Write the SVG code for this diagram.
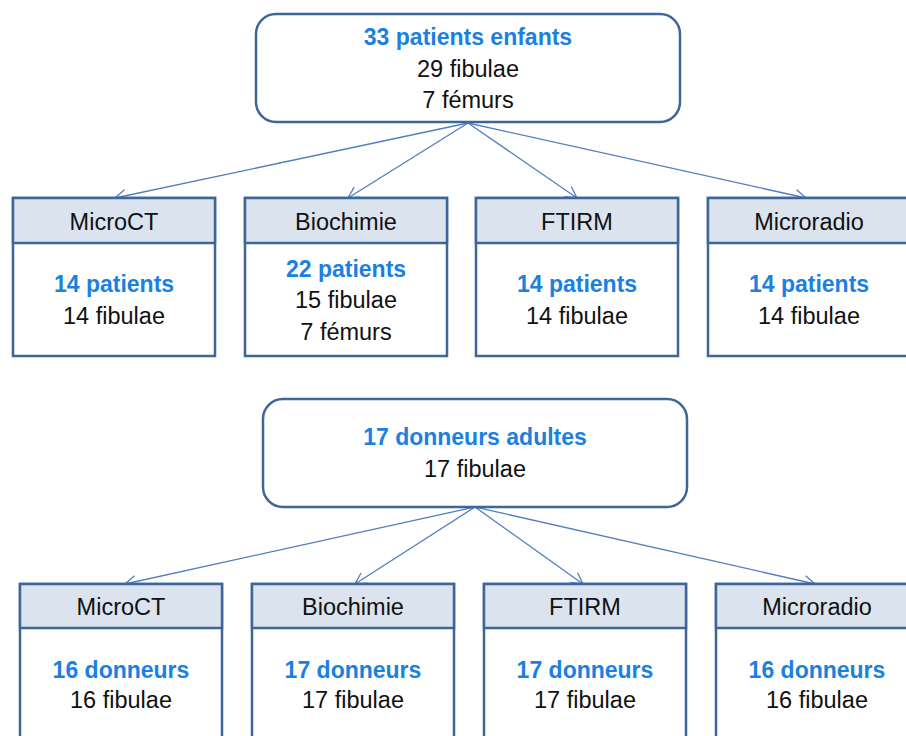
<svg xmlns="http://www.w3.org/2000/svg" width="906" height="736" viewBox="0 0 906 736">
<style>
.box{fill:#fff;stroke:#3f6698;stroke-width:2.5}
.hdr{fill:#dbe3ef;stroke:#3f6698;stroke-width:2.5}
.t{font-family:"Liberation Sans",Arial,sans-serif;font-size:23.5px;fill:#111;text-anchor:middle}
.b{font-family:"Liberation Sans",Arial,sans-serif;font-size:23px;font-weight:bold;fill:#1a80e2;text-anchor:middle}
.c{stroke:#4f7fbd;stroke-width:1.3;fill:none;marker-end:url(#arr)}
</style>
<defs>
<marker id="arr" markerUnits="userSpaceOnUse" markerWidth="16" markerHeight="16" refX="12" refY="7" orient="auto">
<path d="M1,1 L12,7 L1,13" fill="none" stroke="#4f7fbd" stroke-width="1.3"/>
</marker>
</defs>
<rect width="906" height="736" fill="#fff"/>
<g id="connectors">
<line class="c" x1="468" y1="123" x2="115" y2="198"/>
<line class="c" x1="468" y1="123" x2="348" y2="198"/>
<line class="c" x1="468" y1="123" x2="577" y2="198"/>
<line class="c" x1="468" y1="123" x2="806" y2="198"/>
<line class="c" x1="475" y1="507" x2="125" y2="584"/>
<line class="c" x1="475" y1="507" x2="355" y2="584"/>
<line class="c" x1="475" y1="507" x2="583" y2="584"/>
<line class="c" x1="475" y1="507" x2="815" y2="584"/>
</g>
<g id="enfants">
<rect class="box" x="256" y="14" width="424" height="108" rx="20"/>
<text class="b" x="468" y="45">33 patients enfants</text>
<text class="t" x="468" y="77">29 fibulae</text>
<text class="t" x="468" y="108">7 fémurs</text>
</g>
<g id="microct1">
<rect class="box" x="13" y="198" width="202" height="158"/>
<rect class="hdr" x="13" y="198" width="202" height="45"/>
<text class="t" x="114" y="230">MicroCT</text>
<text class="b" x="114" y="292">14 patients</text>
<text class="t" x="114" y="324">14 fibulae</text>
</g>
<g id="biochimie1">
<rect class="box" x="245" y="198" width="202" height="158"/>
<rect class="hdr" x="245" y="198" width="202" height="45"/>
<text class="t" x="346" y="230">Biochimie</text>
<text class="b" x="346" y="277">22 patients</text>
<text class="t" x="346" y="308">15 fibulae</text>
<text class="t" x="346" y="340">7 fémurs</text>
</g>
<g id="ftirm1">
<rect class="box" x="476" y="198" width="202" height="158"/>
<rect class="hdr" x="476" y="198" width="202" height="45"/>
<text class="t" x="577" y="230">FTIRM</text>
<text class="b" x="577" y="292">14 patients</text>
<text class="t" x="577" y="324">14 fibulae</text>
</g>
<g id="microradio1">
<rect class="box" x="708" y="198" width="202" height="158"/>
<rect class="hdr" x="708" y="198" width="202" height="45"/>
<text class="t" x="809" y="230">Microradio</text>
<text class="b" x="809" y="292">14 patients</text>
<text class="t" x="809" y="324">14 fibulae</text>
</g>
<g id="adultes">
<rect class="box" x="263" y="399" width="424" height="108" rx="20"/>
<text class="b" x="475" y="445">17 donneurs adultes</text>
<text class="t" x="475" y="477">17 fibulae</text>
</g>
<g id="microct2">
<rect class="box" x="20" y="584" width="202" height="170"/>
<rect class="hdr" x="20" y="584" width="202" height="44"/>
<text class="t" x="121" y="615">MicroCT</text>
<text class="b" x="121" y="678">16 donneurs</text>
<text class="t" x="121" y="708">16 fibulae</text>
</g>
<g id="biochimie2">
<rect class="box" x="252" y="584" width="202" height="170"/>
<rect class="hdr" x="252" y="584" width="202" height="44"/>
<text class="t" x="353" y="615">Biochimie</text>
<text class="b" x="353" y="678">17 donneurs</text>
<text class="t" x="353" y="708">17 fibulae</text>
</g>
<g id="ftirm2">
<rect class="box" x="484" y="584" width="202" height="170"/>
<rect class="hdr" x="484" y="584" width="202" height="44"/>
<text class="t" x="585" y="615">FTIRM</text>
<text class="b" x="585" y="678">17 donneurs</text>
<text class="t" x="585" y="708">17 fibulae</text>
</g>
<g id="microradio2">
<rect class="box" x="716" y="584" width="202" height="170"/>
<rect class="hdr" x="716" y="584" width="202" height="44"/>
<text class="t" x="817" y="615">Microradio</text>
<text class="b" x="817" y="678">16 donneurs</text>
<text class="t" x="817" y="708">16 fibulae</text>
</g>
</svg>
